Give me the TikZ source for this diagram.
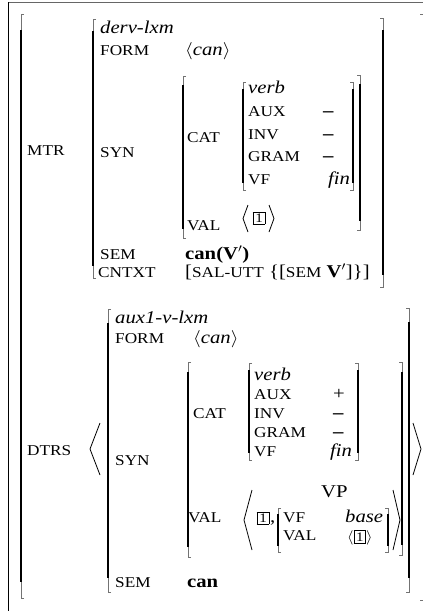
\documentclass[tikz,border=0pt]{standalone}
\usepackage{graphicx}
\usepackage{fontspec}
\setmainfont{Liberation Serif}
\setlength\fboxsep{1.6pt}
\setlength\fboxrule{0.6pt}
\newcommand\W[1]{\scalebox{1.15}[1]{#1}}
\newcommand\tg{\fbox{\fontsize{13}{13}\selectfont 1}}
\newcommand\lbl{\fontsize{15}{15}\selectfont}
\newcommand\avmL[4]{%
  \draw[brk] (#1,#2+#4) -- (#1,#3-#4);
  \draw[brkend] (#1+3,#2) -- (#1,#2) -- (#1,#2+#4);
  \draw[brkend] (#1+3,#3) -- (#1,#3) -- (#1,#3-#4);}
\newcommand\avmR[4]{%
  \draw[brk] (#1,#2+#4) -- (#1,#3-#4);
  \draw[brkend] (#1-3,#2) -- (#1,#2) -- (#1,#2+#4);
  \draw[brkend] (#1-3,#3) -- (#1,#3) -- (#1,#3-#4);}
\tikzset{
  wide/.style={anchor=base west, inner sep=0pt},
  lab/.style={wide, font=\fontsize{15}{15}\selectfont},
  ival/.style={wide, font=\fontsize{18}{18}\selectfont\itshape},
  bval/.style={wide, font=\fontsize{18}{18}\selectfont\bfseries},
  rval/.style={wide, font=\fontsize{18}{18}\selectfont},
  mval/.style={wide, font=\fontsize{18}{18}\selectfont\bfseries},
  tagn/.style={anchor=center, inner sep=0pt},
  brk/.style={line width=2pt},
  brkend/.style={line width=0.9pt, draw=black!55},
  ang/.style={line width=0.8pt, line join=miter},
  frame/.style={line width=1pt}
}
\begin{document}
\begin{tikzpicture}[x=1pt,y=-1pt]
\useasboundingbox (0,0) rectangle (423,611);
% frame
\draw[frame, draw=black!60] (8,2) -- (423,2);
\draw[frame] (8,2) -- (8,611);
% outer bracket
\avmL{21}{14}{598}{16}
\draw[brkend] (420,14) -- (424,14);
\draw[brkend] (420,600) -- (424,600);
% ---------- MTR ----------
\node[lab] (mtr) at (27,155) {\W{MTR}};
\avmL{93}{19}{278}{12}
\avmR{383}{18}{287}{12}
\node[ival] (t1) at (100,33) {\W{derv-lxm}};
\node[lab] (form1) at (100,55) {\W{FORM}};
\node[rval] (formv1) at (185,55) {\W{$\langle$\textit{can}$\rangle$}};
\node[lab] (syn1) at (100,157) {\W{SYN}};
\avmL{183}{76}{238}{9}
\avmR{360}{75}{230}{9}
\node[lab] (cat1) at (187,142) {\W{CAT}};
\avmL{243}{82}{190}{7}
\avmR{353}{82}{190}{7}
\node[ival] (verb1) at (248,93) {\W{verb}};
\node[lab] (aux1) at (248,116) {\W{AUX}};
\node[mval] (auxv1) at (323,116) {\W{–}};
\node[lab] (inv1) at (248,139) {\W{INV}};
\node[mval] (invv1) at (323,139) {\W{–}};
\node[lab] (gram1) at (248,161) {\W{GRAM}};
\node[mval] (gramv1) at (323,161) {\W{–}};
\node[lab] (vf1) at (248,184) {\W{VF}};
\node[ival] (vfv1) at (328,184) {\W{fin}};
\node[lab] (val1) at (187,230) {\W{VAL}};
\draw[ang] (248,205) -- (243,218.5) -- (248,232);
\node[tagn] (tag1) at (259,218) {\W{\tg}};
\draw[ang] (269,205) -- (274,218.5) -- (269,232);
\node[lab] (sem1) at (100,259) {\W{SEM}};
\node[bval] (semv1) at (185,259) {\W{can(V$'$)}};
\node[lab] (cntxt) at (98,277) {\W{CNTXT}};
\node[rval] (cntxtv) at (185,277) {\W{[{\lbl SAL-UTT} \{[{\lbl SEM} \textbf{V}$'$]\}]}};
% ---------- DTRS ----------
\node[lab] (dtrs) at (27,455) {\W{DTRS}};
\draw[ang] (100,423) -- (90,449) -- (100,475);
\draw[ang] (413,423) -- (421,449) -- (413,475);
\avmL{108}{309}{592}{14}
\avmR{409}{308}{592}{14}
\node[ival] (t2) at (115,323) {\W{aux1-v-lxm}};
\node[lab] (form2) at (115,343) {\W{FORM}};
\node[rval] (formv2) at (193,343) {\W{$\langle$\textit{can}$\rangle$}};
\node[lab] (syn2) at (115,465) {\W{SYN}};
\avmL{188}{362}{557}{10}
\avmR{402}{362}{555}{10}
\node[lab] (cat2) at (193,418) {\W{CAT}};
\avmL{249}{363}{460}{7}
\avmR{358}{363}{460}{7}
\node[ival] (verb2) at (254,380) {\W{verb}};
\node[lab] (aux2) at (254,399) {\W{AUX}};
\node[rval] (auxv2) at (333,399) {\W{+}};
\node[lab] (inv2) at (254,418) {\W{INV}};
\node[mval] (invv2) at (333,418) {\W{–}};
\node[lab] (gram2) at (254,437) {\W{GRAM}};
\node[mval] (gramv2) at (333,437) {\W{–}};
\node[lab] (vf2) at (254,456) {\W{VF}};
\node[ival] (vfv2) at (330,456) {\W{fin}};
\node[lab] (val2) at (188,522) {\W{VAL}};
\draw[ang] (252,490) -- (244,520) -- (252,550);
\node[tagn] (tag2) at (263,518) {\W{\tg}};
\node[rval] (comma) at (270,522) {\W{,}};
\node[rval, font=\fontsize{18}{18}\selectfont] (vp) at (321,497) {\W{VP}};
\avmL{278}{508}{552}{6}
\avmR{388}{508}{552}{6}
\node[lab] (vfi) at (283,522) {\W{VF}};
\node[ival] (vfiv) at (345,522) {\W{base}};
\node[lab] (vali) at (283,540) {\W{VAL}};
\node[lab] (valiv) at (347,541) {\W{$\langle$\tg$\rangle$}};
\draw[ang] (393,490) -- (400,520) -- (393,550);
\node[lab] (sem2) at (115,587) {\W{SEM}};
\node[bval] (semv2) at (187,587) {\W{can}};
\end{tikzpicture}
\end{document}
